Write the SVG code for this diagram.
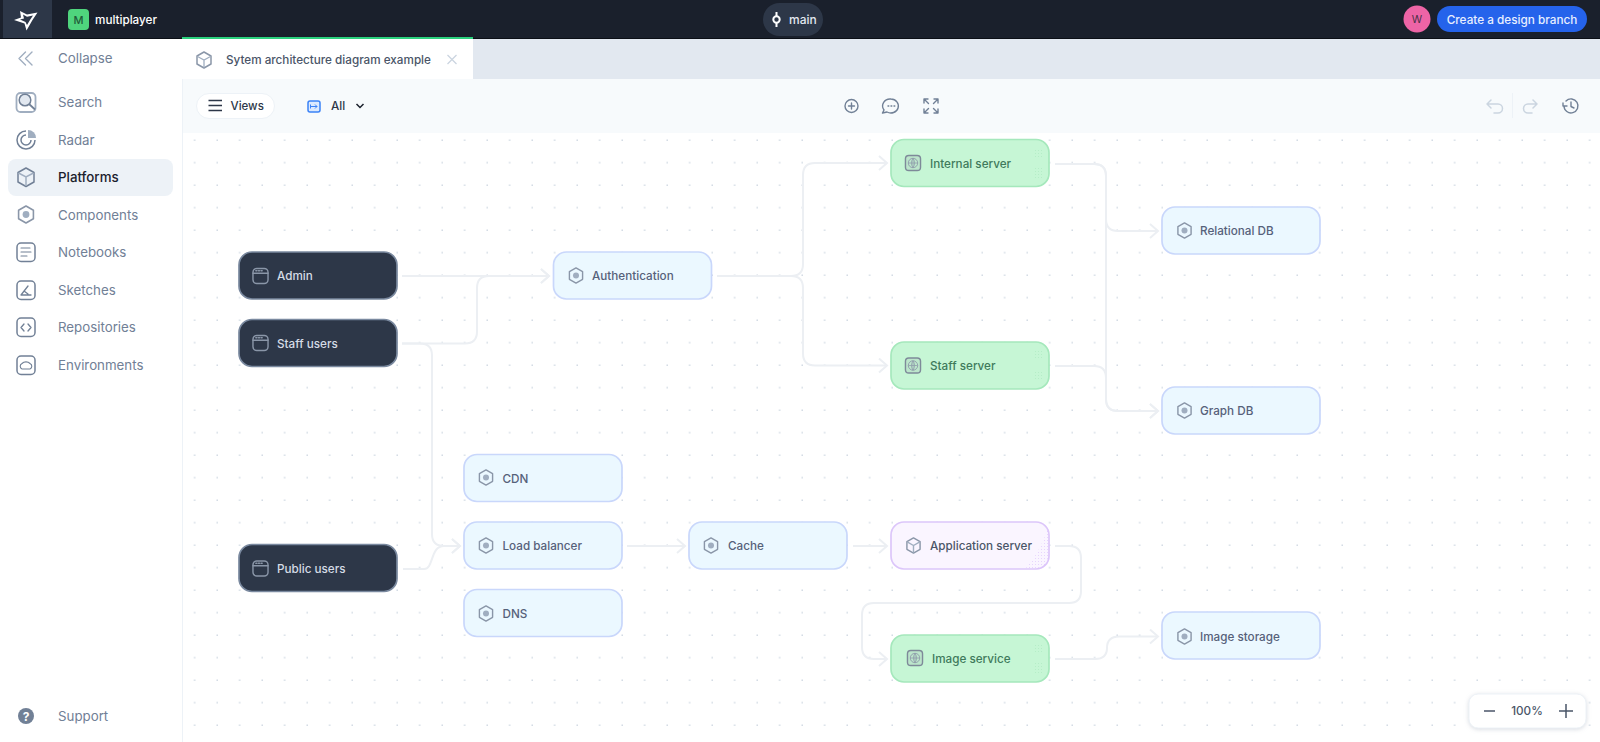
<svg xmlns="http://www.w3.org/2000/svg" width="1600" height="742" viewBox="0 0 1600 742">
<style>
text{font-family:Inter,"Noto Sans","Liberation Sans",sans-serif}
.side{font-size:13.300px;fill:#718096}
.node{stroke-width:1.700}
.lbl{font-size:11.700px;font-weight:500}
.blue rect.b{fill:#ebf8ff;stroke:#c9d7fb}
.blue text{fill:#56617a}
.dark rect.b{fill:#2d3748;stroke:#7a899f}
.dark text{fill:#d5dce6}
.green rect.b{fill:#c6f6d5;stroke:#a5e8bc}
.green text{fill:#3f7a5c}
.purple rect.b{fill:#faf5ff;stroke:#dcc6fa}
.purple text{fill:#4a5568}
.edge{fill:none;stroke:#eceff3;stroke-width:2;marker-end:url(#arr)}
.ic{fill:none;stroke:#8a96a8;stroke-width:1.5;stroke-linejoin:round;stroke-linecap:round}
.sb{stroke:#718096}
.icf{fill:#a0aec0}
.tb{fill:none;stroke:#718096;stroke-width:1.4;stroke-linecap:round;stroke-linejoin:round}
</style>
<defs>
<pattern id="grid" x="193.5" y="139" width="22.5" height="22.5" patternUnits="userSpaceOnUse"><rect x="0.5" y="0.5" width="1.4" height="1.4" fill="#cbd5e0"/></pattern>
<pattern id="speck" width="3" height="3" patternUnits="userSpaceOnUse"><rect width="1" height="1" fill="#d6bcfa" fill-opacity="0.55"/></pattern>
<pattern id="speckg" width="3" height="3" patternUnits="userSpaceOnUse"><rect width="1" height="1" fill="#8fd9a8" fill-opacity="0.3"/></pattern>
<marker id="arr" viewBox="0 0 12 16" refX="10" refY="8" markerWidth="12" markerHeight="16" markerUnits="userSpaceOnUse" orient="auto"><path d="M2 1 L10 8 L2 15" fill="none" stroke="#eceff3" stroke-width="2"/></marker>
<symbol id="hex" viewBox="0 0 17 17" overflow="visible"><path class="ic" d="M8.500 0.500 L15.500 4.500 V12.500 L8.500 16.500 L1.500 12.500 V4.500 Z"/><circle class="icf" cx="8.500" cy="8.500" r="3.200"/></symbol>
<symbol id="win" viewBox="0 0 17 17" overflow="visible"><rect class="ic" x="0.500" y="0.500" width="16" height="16" rx="4"/><path class="ic" d="M0.500 5.500 H16.500"/><path d="M3.500 3 h1.200 M6.300 3 h1.200 M9.100 3 h1.200" class="ic" stroke-width="1.200"/></symbol>
<symbol id="globe" viewBox="0 0 17 17" overflow="visible"><rect x="0.500" y="0.500" width="16" height="16" rx="3.500" fill="#a9c9b9" fill-opacity="0.35" stroke="#7e8a99" stroke-width="1.500"/><circle cx="8.500" cy="8.500" r="5" fill="none" stroke="#8f9cab" stroke-width="1"/><path d="M3.500 8.500 H13.500 M8.500 3.500 V13.500 M8.500 3.500 Q5 8.500 8.500 13.500 M8.500 3.500 Q12 8.500 8.500 13.500" fill="none" stroke="#8f9cab" stroke-width="0.800"/></symbol>
<symbol id="cube" viewBox="0 0 17 17" overflow="visible"><path class="ic" d="M8.500 0.500 L15.500 4.500 V12.500 L8.500 16.500 L1.500 12.500 V4.500 Z"/><path d="M1.800 4.700 L8.500 8.500 L15.200 4.700 M8.500 8.500 V16" fill="none" stroke="#a0aec0" stroke-width="1.500"/></symbol>
</defs>

<rect width="1600" height="742" fill="#fff"/>
<rect x="182" y="133" width="1418" height="609" fill="url(#grid)"/>

<g id="header">
<rect width="1600" height="38" fill="#1a202c"/>
<rect y="38" width="1600" height="1" fill="#0b0f16"/>
<rect x="3" width="49" height="38" fill="#2d3748"/>
<path d="M14 20 L21 17.500 L20 11 L27 14.500 L37.500 12.500 L32.500 20 L26.500 30.500 L24.500 23.500 Z" fill="#fff"/>
<path d="M20 19.500 L24 18.500 L23 14.500 L27 16.800 L33 15.500 L30 20 L27 25 L25.500 22 Z" fill="#2d3748"/>
<rect x="68" y="9" width="21" height="21" rx="4" fill="#4fd47d"/>
<text x="78.500" y="23.500" text-anchor="middle" font-size="11" font-weight="500" fill="#1f5c3a">M</text>
<text x="95" y="23.500" font-size="11.700" font-weight="500" fill="#fff">multiplayer</text>
<rect x="763" y="3" width="60" height="33" rx="16.500" fill="#2d3748"/>
<circle cx="776.500" cy="19.500" r="3.200" fill="none" stroke="#fff" stroke-width="2"/>
<path d="M776.500 12 V16 M776.500 23 V27" stroke="#fff" stroke-width="2"/>
<text x="789" y="23.500" font-size="12" font-weight="500" fill="#e2e8f0">main</text>
<circle cx="1417" cy="19" r="13.500" fill="#ed64a6"/>
<text x="1417" y="23" text-anchor="middle" font-size="10.500" fill="#4a3046">W</text>
<rect x="1437" y="6" width="150" height="26" rx="13" fill="#2563eb"/>
<text x="1512" y="23.500" text-anchor="middle" font-size="11.750" font-weight="500" fill="#e8efff">Create a design branch</text>
</g>

<g id="sidebar">
<rect x="182" y="39" width="1" height="703" fill="#edf2f7"/>
<path class="tb" d="M25.500 52 L19 58.500 L25.500 65 M32 52 L25.500 58.500 L32 65" style="stroke:#a0aec0"/>
<text class="side" x="58" y="63">Collapse</text>
<rect x="16.500" y="93" width="19" height="19" rx="4" fill="none" stroke="#a0aec0" stroke-width="1.800"/>
<circle cx="25" cy="100" r="5.800" fill="#e2e8f0" stroke="#718096" stroke-width="1.500"/><path d="M29 104 L35 109.500" stroke="#718096" stroke-width="1.800"/>
<text class="side" x="58" y="107">Search</text>
<circle cx="26" cy="140" r="9" fill="none" stroke="#718096" stroke-width="1.500"/><circle cx="26" cy="140" r="5" fill="none" stroke="#718096" stroke-width="1.500"/><path d="M26 140 V130 H36 V140 Z" fill="#fff"/><path d="M28 130 a8 8 0 0 1 8 8 h-8 Z" fill="#a0aec0"/>
<text class="side" x="58" y="145">Radar</text>
<rect x="8" y="159" width="165" height="37" rx="8" fill="#edf2f7"/>
<path class="ic sb" d="M26 168 L34 172.500 V182 L26 186.500 L18 182 V172.500 Z"/><path d="M18.500 173 L26 177 L33.500 173 M26 177 V186" fill="none" stroke="#a0aec0" stroke-width="1.500"/>
<text x="58" y="182" font-size="13.300" font-weight="500" fill="#1a202c">Platforms</text>
<use href="#hex" x="17" y="205" width="18" height="19"/>
<text class="side" x="58" y="220">Components</text>
<g class="ic sb"><rect x="17" y="243" width="18" height="18.500" rx="4"/><path d="M21 248 H30 M21 252 H31 M21 256 H27" stroke-width="1.100"/></g>
<text class="side" x="58" y="257">Notebooks</text>
<g class="ic sb"><rect x="17" y="281" width="18" height="18.500" rx="4"/><path d="M21 295 H31 M21 295 L28 286 M24 291 L28 294" stroke-width="1.300"/></g>
<text class="side" x="58" y="295">Sketches</text>
<g class="ic sb"><rect x="17" y="318" width="18" height="18.500" rx="4"/><path d="M24 324 L21 327.500 L24 331 M28 324 L31 327.500 L28 331" stroke-width="1.300"/></g>
<text class="side" x="58" y="332">Repositories</text>
<g class="ic sb"><rect x="17" y="356" width="18" height="18.500" rx="4"/><path d="M22 369 H30 a3 3 0 0 0 0 -5.500 a5 4 0 0 0 -8 0 a3 3 0 0 0 0 5.500 Z" stroke-width="1.100"/></g>
<text class="side" x="58" y="370">Environments</text>
<circle cx="26" cy="716" r="8" fill="#718096"/>
<text x="26" y="720.500" text-anchor="middle" font-size="12" font-weight="700" fill="#fff">?</text>
<text class="side" x="58" y="721">Support</text>
</g>

<g id="tabbar">
<rect x="183" y="39" width="1417" height="40" fill="#e2e8f0"/>
<rect x="182" y="39" width="291" height="40" fill="#fff"/>
<rect x="182" y="37" width="291" height="2" fill="#2bd17e"/>
<path class="ic" d="M204 52 L211 56 V64 L204 68 L197 64 V56 Z"/><path d="M197.500 56.500 L204 60 L210.500 56.500 M204 60 V67.500" fill="none" stroke="#a0aec0" stroke-width="1.300"/>
<text x="226" y="64" font-size="11.700" font-weight="500" fill="#4a5568">Sytem architecture diagram example</text>
<path d="M447.500 55 L456.500 64 M456.500 55 L447.500 64" stroke="#cbd5e0" stroke-width="1.300"/>
</g>

<g id="toolbar">
<rect x="183" y="79" width="1417" height="54" fill="#f7fafc"/>
<rect x="196.500" y="93.500" width="78" height="25" rx="12.500" fill="#fff" stroke="#edf2f7"/>
<path d="M208.500 100.500 H222 M208.500 105.500 H222 M208.500 110.500 H222" stroke="#2d3748" stroke-width="1.400"/>
<text x="230.500" y="109.500" font-size="11.500" font-weight="500" fill="#2d3748">Views</text>
<rect x="308" y="101" width="12" height="11" rx="2" fill="#dbe9fe" stroke="#3b82f6" stroke-width="1.500"/>
<path d="M310.500 106.500 H317 M315 104.500 L317 106.500 L315 108.500 M310.500 104.500 V108.500" stroke="#3b82f6" fill="none"/>
<text x="331" y="109.500" font-size="11.700" font-weight="500" fill="#2d3748">All</text>
<path d="M356.500 104 L360 107.500 L363.500 104" fill="none" stroke="#1a202c" stroke-width="1.500"/>
<circle cx="851.500" cy="106" r="6.500" class="tb"/><path class="tb" d="M851.500 103 V109 M848.500 106 H854.500"/>
<path class="tb" d="M891 99 a7.500 7 0 1 1 -4 13 l-4.500 1 l1.500 -3 a7.500 7 0 0 1 7 -11 Z"/><path d="M888 106 h.8 M891 106 h.8 M894 106 h.8" class="tb"/>
<path class="tb" stroke-width="1.500" d="M924 99 H928 M924 99 V103 M924 99 L928.500 103.500 M938 99 H934 M938 99 V103 M938 99 L933.500 103.500 M924 113 H928 M924 113 V109 M924 113 L928.500 108.500 M938 113 H934 M938 113 V109 M938 113 L933.500 108.500"/>
<path d="M1491 100 L1487 104 L1491 108 M1487 104 H1498 a4.500 4.500 0 0 1 0 9 H1494" fill="none" stroke="#cbd5e0" stroke-width="1.500" stroke-linecap="round" stroke-linejoin="round"/>
<rect x="1512" y="93" width="1" height="25" fill="#edf2f7"/>
<path d="M1533 100 L1537 104 L1533 108 M1537 104 H1528 a4.500 4.500 0 0 0 0 9 H1532" fill="none" stroke="#cbd5e0" stroke-width="1.500" stroke-linecap="round" stroke-linejoin="round"/>
<path class="tb" stroke-width="1.500" d="M1564 106 a7 7 0 1 0 2 -5 M1563 103 V106 H1567 M1571 102 V106.500 L1574 108"/>
</g>

<g id="connectors">
<path class="edge" d="M402 276 H549"/>
<path class="edge" d="M402 343.500 H465 Q477 343.500 477 331.500 V288 Q477 276 489 276 H549"/>
<path class="edge" d="M402 343.500 H420 Q432 343.500 432 355.500 V534 Q432 546 444 546 H460"/>
<path class="edge" d="M403 569 H424 C 434 569 430 546 444 546 H460"/>
<path class="edge" d="M627 546 H685"/>
<path class="edge" d="M853 546 H887"/>
<path class="edge" d="M1055 546 H1069 Q1081 546 1081 558 V591 Q1081 603 1069 603 H874 Q862 603 862 615 V647 Q862 659 874 659 H887"/>
<path class="edge" d="M1055 659 H1095 Q1107 659 1107 648 Q1107 636.500 1119 636.500 H1158"/>
<path class="edge" d="M717 276 H791 Q803 276 803 264 V175 Q803 163 815 163 H887"/>
<path class="edge" d="M717 276 H791 Q803 276 803 288 V353.500 Q803 365.500 815 365.500 H887"/>
<path class="edge" d="M1055 164 H1094 Q1106 164 1106 176 V219 Q1106 231 1118 231 H1158"/>
<path class="edge" d="M1055 164 H1094 Q1106 164 1106 176 V399 Q1106 411 1118 411 H1158"/>
<path class="edge" d="M1055 366 H1094 Q1106 366 1106 378 V399 Q1106 411 1118 411 H1158"/>
</g>

<g id="admin" class="node dark"><rect class="b" x="239" y="252" width="158" height="47" rx="13"/><use href="#win" x="252.500" y="268" width="16" height="16"/><text class="lbl" x="277" y="280">Admin</text></g>
<g id="staff-users" class="node dark"><rect class="b" x="239" y="319.500" width="158" height="47" rx="13"/><use href="#win" x="252.500" y="335" width="16" height="16"/><text class="lbl" x="277" y="348">Staff users</text></g>
<g id="public-users" class="node dark"><rect class="b" x="239" y="544.500" width="158" height="47" rx="13"/><use href="#win" x="252.500" y="560.500" width="16" height="16"/><text class="lbl" x="277" y="573">Public users</text></g>

<g id="authentication" class="node blue"><rect class="b" x="553.500" y="252" width="158" height="47" rx="13"/><use href="#hex" x="568" y="267" width="16" height="17"/><text class="lbl" x="592" y="280">Authentication</text></g>
<g id="cdn" class="node blue"><rect class="b" x="464" y="454.500" width="158" height="47" rx="13"/><use href="#hex" x="478" y="469" width="16" height="17"/><text class="lbl" x="502.500" y="483">CDN</text></g>
<g id="load-balancer" class="node blue"><rect class="b" x="464" y="522" width="158" height="47" rx="13"/><use href="#hex" x="478" y="537" width="16" height="17"/><text class="lbl" x="502.500" y="550">Load balancer</text></g>
<g id="dns" class="node blue"><rect class="b" x="464" y="589.500" width="158" height="47" rx="13"/><use href="#hex" x="478" y="605" width="16" height="17"/><text class="lbl" x="502.500" y="618">DNS</text></g>
<g id="cache" class="node blue"><rect class="b" x="689" y="522" width="158" height="47" rx="13"/><use href="#hex" x="703" y="537" width="16" height="17"/><text class="lbl" x="728" y="550">Cache</text></g>
<g id="relational-db" class="node blue"><rect class="b" x="1162" y="207" width="158" height="47" rx="13"/><use href="#hex" x="1176.500" y="222" width="16" height="17"/><text class="lbl" x="1200" y="235">Relational DB</text></g>
<g id="graph-db" class="node blue"><rect class="b" x="1162" y="387" width="158" height="47" rx="13"/><use href="#hex" x="1176.500" y="402" width="16" height="17"/><text class="lbl" x="1200" y="415">Graph DB</text></g>
<g id="image-storage" class="node blue"><rect class="b" x="1162" y="612" width="158" height="47" rx="13"/><use href="#hex" x="1176.500" y="628" width="16" height="17"/><text class="lbl" x="1200" y="640.500">Image storage</text></g>

<g id="internal-server" class="node green"><rect class="b" x="891" y="139.500" width="158" height="47" rx="13"/><path d="M1033 148 h10 v10 h-10 Z M1033 168 h10 v10 h-10 Z" fill="url(#speckg)"/><use href="#globe" x="905" y="155" width="16" height="16"/><text class="lbl" x="930" y="168">Internal server</text></g>
<g id="staff-server" class="node green"><rect class="b" x="891" y="342" width="158" height="47" rx="13"/><path d="M1033 350 h10 v10 h-10 Z M1033 370 h10 v10 h-10 Z" fill="url(#speckg)"/><use href="#globe" x="905" y="357.500" width="16" height="16"/><text class="lbl" x="930" y="370">Staff server</text></g>
<g id="image-service" class="node green"><rect class="b" x="891" y="635" width="158" height="47" rx="13"/><path d="M1033 643 h10 v10 h-10 Z M1033 663 h10 v10 h-10 Z" fill="url(#speckg)"/><use href="#globe" x="907" y="650" width="16" height="16"/><text class="lbl" x="932" y="662.500">Image service</text></g>
<g id="application-server" class="node purple"><rect class="b" x="891" y="522" width="158" height="47" rx="13"/><path d="M1048 528 V556 Q1048 568 1036 568 H1026 Q1040 552 1048 528 Z" fill="url(#speck)"/><use href="#cube" x="905.500" y="537" width="16" height="17"/><text class="lbl" x="930" y="550">Application server</text></g>

<g id="zoom">
<rect x="1469" y="694" width="117" height="34" rx="9" fill="#fff" stroke="#edf2f7" style="filter:drop-shadow(0 1.500px 2px rgba(100,116,139,.25))"/>
<path d="M1484 711 H1495" stroke="#4a5568" stroke-width="1.500"/>
<text x="1527" y="715" text-anchor="middle" font-size="11.700" font-weight="500" fill="#4a5568">100%</text>
<path d="M1566 704 V718 M1559 711 H1573" stroke="#4a5568" stroke-width="1.500"/>
</g>
</svg>
